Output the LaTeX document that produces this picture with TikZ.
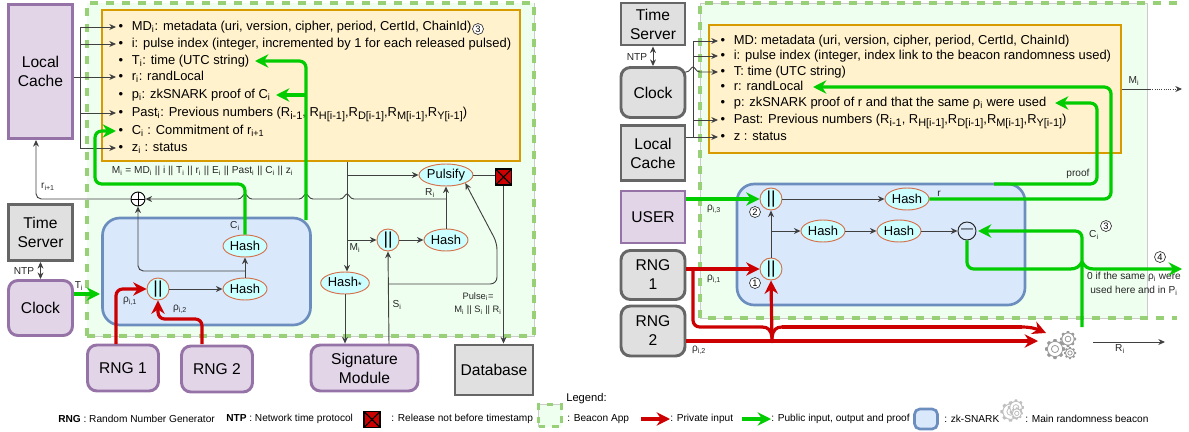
\documentclass[tikz,border=0pt]{standalone}
\usepackage{fontspec}
\setmainfont{Liberation Sans}
\usetikzlibrary{arrows.meta,shapes.geometric}
\def\px{0.75pt}
\newcommand{\sbs}[1]{\textsubscript{#1}}
\newcommand{\sbb}[1]{\raisebox{-2pt}{\fontsize{8.2}{9}\selectfont #1}}
\newcommand{\bul}[1]{•\hspace{6.5pt}#1}
\newcommand{\jump}[2]{-- (#1-7,#2) .. controls (#1-3,#2) and (#1-2,#2-5) .. (#1,#2-5) .. controls (#1+2,#2-5) and (#1+3,#2) .. (#1+7,#2)}
\definecolor{purplefill}{HTML}{E1D5E7}
\definecolor{purpleline}{HTML}{9673A6}
\definecolor{greyfill}{HTML}{E0E0E0}
\definecolor{greyline}{HTML}{666666}
\definecolor{notefill}{HTML}{FFF2CC}
\definecolor{noteline}{HTML}{D79B00}
\definecolor{zkfill}{HTML}{DAE8FC}
\definecolor{zkline}{HTML}{6C8EBF}
\definecolor{appfill}{HTML}{EFFFEF}
\definecolor{appline}{HTML}{97D077}
\definecolor{opfill}{HTML}{CCFFFF}
\definecolor{opline}{HTML}{D5704A}
\definecolor{pubgreen}{HTML}{00CC00}
\definecolor{privred}{HTML}{CC0000}
\colorlet{gearcol}{black!40}
\tikzset{
	boxsize/.style 2 args={minimum width=#1*\px,minimum height=#2*\px,inner sep=0pt},
	bigtext/.style={align=center,font=\fontsize{11.7}{14.2}\selectfont},
	purplebox/.style={draw=purpleline,fill=purplefill,line width=2.2pt,bigtext},
	purpleround/.style={purplebox,rounded corners=7pt},
	greybox/.style={draw=greyline,fill=greyfill,line width=2.2pt,bigtext},
	greyround/.style={greybox,rounded corners=7pt},
	notebox/.style={draw=noteline,fill=notefill,line width=2.2pt},
	zkbox/.style={draw=zkline,fill=zkfill,line width=2pt,rounded corners=13pt},
	appbox/.style={fill=appfill,draw=appline,line width=2.5pt,dash pattern=on 6pt off 6pt,
		preaction={draw=black!20,line width=.6pt,solid}},
	hashop/.style={ellipse,draw=opline,fill=opfill,line width=.7pt,boxsize={44}{22},
		font=\fontsize{9.7}{12}\selectfont},
	orop/.style={circle,draw=opline,fill=opfill,line width=.7pt,boxsize={22}{22},
		font=\fontsize{13}{14}\selectfont},
	listitem/.style={anchor=west,inner ysep=0pt,inner xsep=1.8pt,text height=7.5pt,text depth=2.5pt,
		font=\fontsize{9.7}{12}\selectfont},
	lab/.style={inner sep=0pt,font=\fontsize{7.6}{9.8}\selectfont,text=black!85,align=center},
	legtext/.style={anchor=west,inner sep=0pt,font=\fontsize{7.6}{9.5}\selectfont},
	numcirc/.style={circle,draw=black!80,fill=white,line width=.5pt,boxsize={11}{11},
		font=\fontsize{7}{8}\selectfont},
	xbox/.style={rectangle,draw=black,fill=privred,line width=1pt,boxsize={16}{16},
		path picture={\draw[line width=.8pt] (path picture bounding box.south west)--(path picture bounding box.north east)
			(path picture bounding box.north west)--(path picture bounding box.south east);}},
	xorop/.style={circle,draw=black,fill=white,line width=.7pt,boxsize={14}{14},
		path picture={\draw[line width=.7pt] (path picture bounding box.north)--(path picture bounding box.south)
			(path picture bounding box.west)--(path picture bounding box.east);}},
	minusop/.style={circle,draw=black!85,fill=zkfill,line width=.7pt,boxsize={18}{18},
		font=\fontsize{9}{10}\selectfont},
	wire/.style={draw=black!75,line width=.7pt},
	flow/.style={wire,-{Stealth[length=5pt,width=4.5pt]}},
	publine/.style={draw=pubgreen,line width=2.4pt,rounded corners=5pt},
	pubarrow/.style={publine,-{Stealth[length=10pt,width=10pt]}},
	privline/.style={draw=privred,line width=2.4pt,rounded corners=5pt},
	privarrow/.style={privline,-{Stealth[length=10pt,width=10pt]}},
	gearone/.pic={
		\foreach \a in {0,45,...,315}
			\fill[gearcol,rotate=\a] (-2.2,7) -- (-1.4,10) -- (1.4,10) -- (2.2,7) -- cycle;
		\draw[gearcol,fill=white,line width=.6pt] (0,0) circle (7.6);
		\draw[gearcol,line width=.6pt] (0,0) circle (3.6);
	},
	gearset/.pic={
		\pic at (-6,4) {gearone};
		\pic[scale=.8] at (7,-6) {gearone};
		\pic[scale=.6] at (9,8) {gearone};
	}
}
\begin{document}
\begin{tikzpicture}[x=\px,y=-\px]
	\useasboundingbox (0,0) rectangle (1189,432);
	%Left panel, boxes
	\node[appbox,boxsize={447}{333}] (appL) at (310.5,169.5) {};
	\node[notebox,boxsize={418}{151}] (noteL) at (311,85.5) {};
	\node[zkbox,boxsize={208}{107}] (zkL) at (206.5,271.5) {};
	\node[purplebox,boxsize={64}{134}] (cacheL) at (40.5,71.5) {Local\\Cache};
	\node[greybox,boxsize={64}{56}] (timeL) at (40.5,232.5) {Time\\Server};
	\node[purpleround,boxsize={64}{55}] (clockL) at (40.5,308) {Clock};
	\node[purpleround,boxsize={71}{46}] (rngAL) at (123,368) {RNG 1};
	\node[purpleround,boxsize={71}{46}] (rngBL) at (217,369) {RNG 2};
	\node[purpleround,boxsize={107}{46}] (signL) at (364.5,368) {Signature\\Module};
	\node[greybox,boxsize={78}{50}] (dbL) at (494,370) {Database};
	%Left panel, list
	\node[listitem] (mdL) at (116,27) {\bul{MD\sbs{i}: metadata (uri, version, cipher, period, CertId, ChainId)}};
	\node[listitem] (iL) at (116,44) {\bul{i: pulse index (integer, incremented by 1 for each released pulsed)}};
	\node[listitem] (tL) at (116,61) {\bul{T\sbs{i}: time (UTC string)}};
	\node[listitem] (rL) at (116,77) {\bul{r\sbs{i}: randLocal}};
	\node[listitem] (pL) at (116,95) {\bul{p\sbs{i}: zkSNARK proof of C\sbs{i}}};
	\node[listitem] (pastL) at (116,113) {\bul{Past\sbs{i}: Previous numbers (R\sbb{i-1}, R\sbb{H[i-1]},R\sbb{D[i-1]},R\sbb{M[i-1]},R\sbb{Y[i-1]})}};
	\node[listitem] (cL) at (116,131) {\bul{C\sbs{i} : Commitment of r\sbs{i+1}}};
	\node[listitem] (zL) at (116,148) {\bul{z\sbs{i} : status}};
	\node[numcirc] (n3L) at (478,29) {3};
	\node[lab] (eqL) at (202.5,171) {M\sbs{i} = MD\sbs{i} || i || T\sbs{i} || r\sbs{i} || E\sbs{i} || Past\sbs{i} || C\sbs{i} || z\sbs{i}};
	%Left panel, operators
	\node[orop] (orL) at (158,289) {||};
	\node[hashop] (hashAL) at (245,289) {Hash};
	\node[hashop] (hashBL) at (245,246) {Hash};
	\node[orop] (orML) at (388,240) {||};
	\node[hashop] (hashML) at (446,240) {Hash};
	\node[hashop] (hashSL) at (345,283) {Hash\sbs{*}};
	\node[hashop] (pulsL) at (446,175) {Pulsify};
	\node[xbox] (xL) at (503.5,177) {};
	\node[xorop] (xorL) at (138,199) {};
	%Left panel, labels
	\node[lab] (ntpL) at (24,271) {NTP};
	\node[lab] (tiL) at (79,286) {T\sbs{i}};
	\node[lab] (rhoAL) at (130,301) {ρ\sbs{i,1}};
	\node[lab] (rhoBL) at (180,309) {ρ\sbs{i,2}};
	\node[lab] (ciL) at (235,226) {C\sbs{i}};
	\node[lab] (nextL) at (48,187) {r\sbs{i+1}};
	\node[lab] (riL) at (430,193) {R\sbs{i}};
	\node[lab] (miL) at (355,248) {M\sbs{i}};
	\node[lab] (siL) at (397,305) {S\sbs{i}};
	\node[lab,font=\fontsize{7}{9.8}\selectfont] (pulseL) at (478,303.5) {Pulse\sbs{i}=\\M\sbs{i} || S\sbs{i} || R\sbs{i}};
	%Left panel, thin connectors
	\coordinate (busL) at (80,27);
	\coordinate (nextIn) at (36,140);
	\coordinate (splitL) at (347,175);
	\coordinate (joinL) at (446,199);
	\coordinate (signIn) at (389,344);
	\coordinate (feedA) at (389,284);
	\coordinate (feedB) at (497,284);
	\coordinate (feedC) at (497,243);
	\draw[wire] (busL) -- (busL |- zL);
	\draw[flow] (busL) -- (mdL.west);
	\draw[flow] (busL |- iL) -- (iL.west);
	\draw[flow] (cacheL.east |- rL) -- (rL.west);
	\draw[flow] (busL |- pastL) -- (pastL.west);
	\draw[flow] (busL |- zL) -- (zL.west);
	\draw[{Stealth[length=5pt,width=4.5pt]}-{Stealth[length=5pt,width=4.5pt]},wire] (timeL.south) -- (clockL.north);
	\draw[flow] (orL.east) -- (hashAL.west);
	\draw[flow] (hashAL.north) -- (hashBL.south);
	\draw[flow,rounded corners=4pt] (245,271) -| (xorL.south);
	\draw[flow,rounded corners=4pt] (xorL.west) -| (nextIn);
	\draw[{Stealth[length=5pt,width=4.5pt]}-,wire] (xorL.east) \jump{245}{199} \jump{306}{199} \jump{347}{199} -- (joinL);
	\draw[flow] (hashML.north) -- (pulsL.south);
	\draw[wire] (noteL.south -| splitL) -- (splitL);
	\draw[flow] (splitL) -- (pulsL.west);
	\draw[flow] (splitL) -- (splitL |- hashSL.north);
	\draw[flow] (splitL |- orML) -- (orML.west);
	\draw[flow] (orML.east) -- (hashML.west);
	\draw[flow] (hashSL.south) -- (hashSL.south |- signL.north);
	\draw[flow] (signIn) -- (orML.south);
	\draw[flow,rounded corners=5pt] (feedA) -- (feedB) -- (feedC) -- (pulsL.south east);
	\draw[wire] (pulsL.east) -- (xL.west |- pulsL);
	\draw[flow] (xL.south) -- (xL.south |- dbL.north);
	%Left panel, thick connectors
	\coordinate (tiTip) at (100,294);
	\coordinate (rhoA) at (116,344);
	\coordinate (rhoB) at (202,344);
	\coordinate (rhoC) at (158,319);
	\coordinate (ciBend) at (95,184);
	\coordinate (proofL) at (306,220);
	\coordinate (tipT) at (255,61);
	\coordinate (tipP) at (276,95);
	\draw[pubarrow] (clockL.east |- tiTip) -- (tiTip);
	\draw[privarrow] (rhoA) |- (orL.west);
	\draw[privarrow] (rhoB) |- (rhoC) -- (orL.south);
	\draw[pubarrow] (hashBL.north) |- (ciBend) |- (cL.west);
	\draw[pubarrow] (proofL) |- (tipT);
	\draw[pubarrow] (proofL |- tipP) -- (tipP);
	%Right panel, boxes
	\node[fill=appfill,draw=black!20,line width=.6pt,boxsize={447}{315}] (appR) at (923.5,160.5) {};
	\draw[draw=appline,line width=2.5pt,dash pattern=on 6pt off 6pt] (1177,3) -- (700,3) -- (700,318) -- (1177,318);
	\node[notebox,boxsize={412}{128}] (noteR) at (915,89) {};
	\node[zkbox,boxsize={288}{121}] (zkR) at (881,244.5) {};
	\node[greybox,boxsize={64}{42}] (timeR) at (653,24) {Time\\Server};
	\node[greyround,boxsize={64}{50}] (clockR) at (653,92.5) {Clock};
	\node[greybox,boxsize={64}{55}] (cacheR) at (653,153) {Local\\Cache};
	\node[purplebox,boxsize={64}{52}] (userR) at (653,217) {USER};
	\node[greyround,boxsize={64}{49}] (rngAR) at (653,275) {RNG\\1};
	\node[greyround,boxsize={64}{50}] (rngBR) at (653,331) {RNG\\2};
	%Right panel, list
	\node[listitem] (mdR) at (718,41) {\bul{MD: metadata (uri, version, cipher, period, CertId, ChainId)}};
	\node[listitem] (iR) at (718,56) {\bul{i: pulse index (integer, index link to the beacon randomness used)}};
	\node[listitem] (tR) at (718,72) {\bul{T: time (UTC string)}};
	\node[listitem] (rR) at (718,87) {\bul{r: randLocal}};
	\node[listitem] (pR) at (718,103) {\bul{p: zkSNARK proof of r and that the same ρ\sbs{i} were used}};
	\node[listitem] (pastR) at (718,120) {\bul{Past: Previous numbers (R\sbb{i-1}, R\sbb{H[i-1]},R\sbb{D[i-1]},R\sbb{M[i-1]},R\sbb{Y[i-1]})}};
	\node[listitem] (zR) at (718,137) {\bul{z : status}};
	%Right panel, operators
	\node[orop] (orTR) at (771,199) {||};
	\node[orop] (orBR) at (771,269) {||};
	\node[hashop] (hashAR) at (823,231) {Hash};
	\node[hashop] (hashBR) at (899,231) {Hash};
	\node[hashop] (hashCR) at (907,199) {Hash};
	\node[minusop] (minusR) at (967,231) {—};
	%Right panel, labels
	\node[lab] (ntpR) at (637,57) {NTP};
	\node[lab] (miR) at (1134,81) {M\sbs{i}};
	\node[lab] (prfR) at (1078,174) {proof};
	\node[lab] (rrR) at (939,194) {r};
	\node[lab] (rhoCR) at (714,209) {ρ\sbs{i,3}};
	\node[lab] (rhoAR) at (714,279) {ρ\sbs{i,1}};
	\node[lab] (rhoBR) at (699,350) {ρ\sbs{i,2}};
	\node[numcirc] (n2R) at (755,212) {2};
	\node[numcirc] (n1R) at (755,283) {1};
	\node[lab] (ciR) at (1094,235) {C\sbs{i}};
	\node[numcirc] (n3R) at (1106,226) {3};
	\node[numcirc] (n4R) at (1160,257) {4};
	\node[lab,font=\fontsize{7.6}{10.5}\selectfont] (zeroR) at (1134,284) {0 if the same ρ\sbs{i} were\\used here and in P\sbs{i}};
	\node[lab] (riR) at (1120,349) {R\sbs{i}};
	\pic at (1061,345) {gearset};
	%Right panel, thin connectors
	\coordinate (busR) at (693,41);
	\coordinate (miA) at (1150,89);
	\coordinate (miB) at (1182,89);
	\coordinate (riA) at (1093,342);
	\coordinate (riB) at (1165,342);
	\coordinate (splitR) at (771,231);
	\draw[wire] (busR) -- (busR |- zR);
	\draw[flow] (busR) -- (mdR.west);
	\draw[flow] (busR |- iR) -- (iR.west);
	\draw[flow] (clockR.east |- tR) \jump{693}{72} -- (tR.west);
	\draw[flow] (busR |- pastR) -- (pastR.west);
	\draw[flow] (cacheR.east |- zR) -- (zR.west);
	\draw[{Stealth[length=5pt,width=4.5pt]}-{Stealth[length=5pt,width=4.5pt]},wire] (timeR.south) -- (clockR.north);
	\draw[flow] (orBR.north) -- (orTR.south);
	\draw[flow] (splitR) -- (hashAR.west);
	\draw[flow] (hashAR.east) -- (hashBR.west);
	\draw[flow] (hashBR.east) -- (minusR.west);
	\draw[flow] (orTR.east) -- (hashCR.west);
	\draw[wire] (noteR.east |- miA) -- (miA);
	\draw[flow,densely dotted] (miA) -- (miB);
	\draw[flow] (riA) -- (riB);
	%Right panel, thick connectors
	\coordinate (proofR) at (994,184);
	\coordinate (proofBend) at (1097,184);
	\coordinate (tipProof) at (1055,103);
	\coordinate (randBend) at (1111,199);
	\coordinate (tipRand) at (813,87);
	\coordinate (ciFoot) at (1082,327);
	\coordinate (tipC) at (978,231);
	\coordinate (zeroBend) at (967,269);
	\coordinate (zeroTip) at (1182,269);
	\coordinate (privBus) at (693,269);
	\coordinate (privL) at (762,327);
	\coordinate (privM) at (772,337);
	\coordinate (privR) at (782,327);
	\coordinate (privS) at (1022,327);
	\coordinate (tipBig) at (1046,333);
	\coordinate (privLow) at (772,341);
	\coordinate (tipLow) at (1038,341);
	\draw[pubarrow] (userR.east |- orTR) -- (orTR.west);
	\draw[privarrow] (rngAR.east |- orBR) -- (orBR.west);
	\draw[pubarrow] (proofR) -- (proofBend) |- (tipProof);
	\draw[pubarrow] (hashCR.east) -- (randBend) |- (tipRand);
	\draw[pubarrow] (ciFoot) |- (tipC);
	\draw[publine] (minusR.south) |- (1070,269);
	\draw[pubarrow,rounded corners=0pt] (1070,269) .. controls (1076,269) and (1079,267) .. (1082,262) .. controls (1085,267) and (1088,269) .. (1094,269) -- (zeroTip);
	\draw[privline] (privBus) |- (privL);
	\draw[privline,rounded corners=0pt] (privL) .. controls (768,327) and (771,330) .. (privM) .. controls (773,330) and (776,327) .. (privR);
	\draw[privline] (privR) -- (privS);
	\draw[privarrow] (privS) .. controls (1033,327) and (1039,330) .. (tipBig);
	\draw[privarrow] (rngBR.east |- privLow) -- (tipLow);
	\draw[privarrow] (privLow) -- (orBR.south);
	%Legend
	\node[legtext,font=\fontsize{8.4}{10}\selectfont] (legTitle) at (566,399) {Legend:};
	\node[legtext] (legRng) at (58,419) {\textbf{RNG} : Random Number Generator};
	\node[legtext] (legNtp) at (226,419) {\textbf{NTP} : Network time protocol};
	\node[xbox] (legX) at (372,419.5) {};
	\node[legtext] (legRel) at (391,419) {: Release not before timestamp};
	\node[appbox,boxsize={23}{22},dash pattern=on 5pt off 5pt] (legApp) at (550,415.5) {};
	\node[legtext] (legBea) at (567,419) {: Beacon App};
	\node[legtext] (legPriv) at (670,419) {: Private input};
	\node[legtext] (legPub) at (771,419) {: Public input, output and proof};
	\node[zkbox,rounded corners=4pt,boxsize={23}{20}] (legZk) at (926,419) {};
	\node[legtext] (legSn) at (944,419) {: zk-SNARK};
	\begin{scope}
		\colorlet{gearcol}{black!25}
		\pic[scale=.42] at (1013,410) {gearset};
	\end{scope}
	\node[legtext] (legMain) at (1025,419) {: Main randomness beacon};
	\coordinate (legPrivS) at (641,419);
	\coordinate (legPubS) at (742,419);
	\draw[privarrow] (legPrivS) -- (legPriv.west);
	\draw[pubarrow] (legPubS) -- (legPub.west);
\end{tikzpicture}
\end{document}
